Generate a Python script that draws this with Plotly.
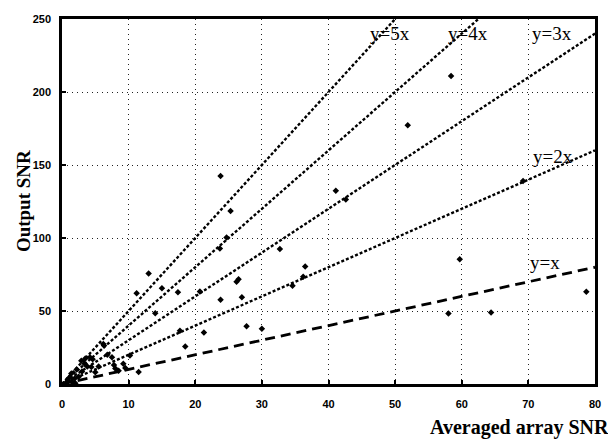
import numpy as np
import plotly.graph_objects as go

# Data points (Averaged array SNR, Output SNR)
avg_snr = [0.6, 0.9, 1.0, 1.4, 1.5, 1.9, 2.0, 2.2, 2.5, 2.9, 3.0, 3.4, 3.5, 3.8, 4.2, 4.4,
           4.6, 5.0, 5.5, 6.2, 6.3, 6.8, 7.5, 7.8, 8.0, 8.5, 9.2, 9.5, 10.2, 11.2, 11.5,
           13.0, 14.0, 15.0, 17.4, 17.7, 18.5, 20.7, 21.3, 23.7, 23.8, 23.8, 24.7, 25.3,
           26.2, 26.5, 27.0, 27.7, 30.0, 32.7, 34.6, 36.2, 36.5, 41.1, 42.6, 51.9, 58.0,
           58.4, 59.7, 64.4, 69.2, 78.7]
out_snr = [0.9, 2.7, 4.0, 7.2, 1.5, 3.8, 0.5, 10.0, 5.0, 16.0, 8.5, 13.9, 17.5, 12.0, 18.4, 11.7,
           17.0, 8.0, 12.0, 27.4, 26.3, 20.0, 18.4, 13.0, 10.6, 9.0, 13.9, 11.0, 19.5, 62.2, 8.3,
           75.7, 48.4, 65.6, 62.9, 36.4, 25.7, 63.3, 35.2, 92.8, 57.7, 142.4, 100.4, 118.5,
           70.0, 71.8, 59.4, 39.5, 37.8, 92.5, 67.3, 73.4, 80.4, 132.4, 126.3, 177.2, 48.3,
           211.0, 85.4, 49.0, 139.0, 63.1]

# Reference lines y = k x
slopes = [1, 2, 3, 4, 5]
line_labels = ["y=x", "y=2x", "y=3x", "y=4x", "y=5x"]
label_x = [72.5, 73.7, 73.5, 61.0, 49.2]
label_y = [83.5, 156, 240, 240, 240]

x_ticks = [0, 10, 20, 30, 40, 50, 60, 70, 80]
y_ticks = [0, 50, 100, 150, 200, 250]

fig = go.Figure()
x_line = np.array([0, 80])
for k in slopes:
    fig.add_trace(go.Scatter(
        x=x_line, y=k * x_line, mode="lines",
        line=dict(color="black", width=2.8 if k == 1 else 2.4,
                  dash="10px,6px" if k == 1 else "3px,2px"),
        hoverinfo="skip", showlegend=False))

fig.add_trace(go.Scatter(
    x=avg_snr, y=out_snr, mode="markers",
    marker=dict(symbol="diamond", size=5, color="black"),
    showlegend=False, cliponaxis=True))

for t, lx, ly in zip(line_labels, label_x, label_y):
    fig.add_annotation(x=lx, y=ly, text=t, showarrow=False,
                       font=dict(family="Liberation Serif", size=19, color="black"),
                       bgcolor="rgba(0,0,0,0)")

fig.add_annotation(xref="paper", yref="paper", x=1.03, y=-0.119, xanchor="right",
                   yanchor="middle", text="<b>Averaged array SNR</b>", showarrow=False,
                   font=dict(family="Liberation Serif", size=20, color="black"))
fig.add_annotation(xref="paper", yref="paper", x=-0.072, y=0.5, xanchor="center",
                   yanchor="middle", text="<b>Output SNR</b>", textangle=-90,
                   showarrow=False,
                   font=dict(family="Liberation Serif", size=19, color="black"))

axis_common = dict(showline=True, linecolor="black", linewidth=2.5, mirror=True,
                   showgrid=True, gridcolor="#222", gridwidth=1, griddash="1px,4px",
                   zeroline=False, ticks="inside", ticklen=4, tickcolor="black",
                   tickwidth=2,
                   tickfont=dict(family="Liberation Sans", size=11, color="black",
                                 weight="bold"))

fig.update_xaxes(range=[0, 80], tickvals=x_ticks, ticklabelstandoff=8, **axis_common)
fig.update_yaxes(range=[0, 250], tickvals=y_ticks, ticklabelstandoff=6, **axis_common)

fig.update_layout(width=608, height=437, plot_bgcolor="white", paper_bgcolor="white",
                  margin=dict(l=54, r=21, t=5, b=61))

fig.write_html("out.html")
